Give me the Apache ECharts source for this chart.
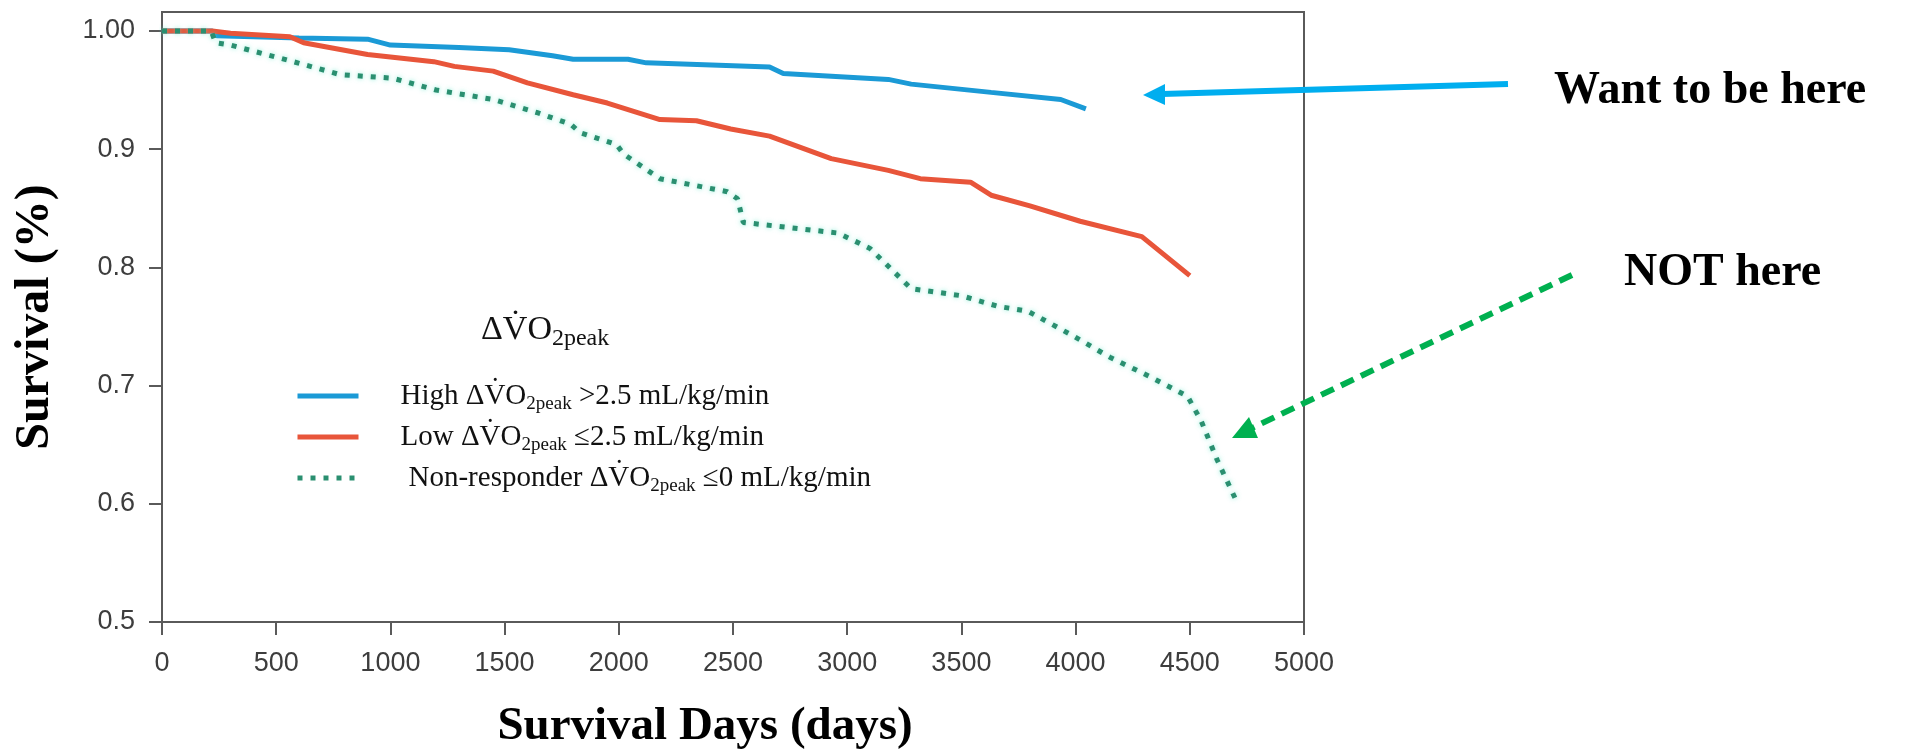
<!DOCTYPE html>
<html>
<head>
<meta charset="utf-8">
<title>Survival by change in VO2peak</title>
<script src="https://cdn.jsdelivr.net/npm/echarts@6/dist/echarts.min.js"></script>
<style>
    html, body { margin: 0; padding: 0; background: #fff; }
    #main { width: 1906px; height: 755px; }
</style>
</head>
<body>
<div id="main"></div>
<script>
// survival curves (days, survival)
let highDays = [0, 220, 240, 600, 900, 1000, 1300, 1520, 1710, 1800, 2040, 2120, 2660, 2720, 3180, 3280, 3630, 3935, 4045];
let highSurv = [1.0, 1.0, 0.996, 0.994, 0.993, 0.988, 0.986, 0.984, 0.979, 0.976, 0.976, 0.973, 0.9695, 0.964, 0.959, 0.955, 0.948, 0.942, 0.934];

let lowDays = [0, 220, 300, 560, 620, 900, 1190, 1280, 1450, 1600, 1800, 1950, 2180, 2340, 2490, 2660, 2930, 3180, 3320, 3540, 3630, 3800, 4020, 4290, 4500];
let lowSurv = [1.0, 1.0, 0.998, 0.995, 0.990, 0.980, 0.974, 0.970, 0.966, 0.956, 0.946, 0.939, 0.925, 0.924, 0.917, 0.911, 0.892, 0.882, 0.875, 0.872, 0.861, 0.852, 0.839, 0.826, 0.793];

let nonDays = [0, 215, 235, 300, 575, 780, 1010, 1200, 1450, 1640, 1790, 1830, 1990, 2020, 2180, 2475, 2520, 2545, 2960, 3100, 3280, 3500, 3660, 3790, 3980, 4150, 4320, 4490, 4550, 4620, 4705];
let nonSurv = [1.0, 1.0, 0.990, 0.988, 0.974, 0.963, 0.960, 0.950, 0.942, 0.931, 0.921, 0.914, 0.904, 0.896, 0.875, 0.864, 0.858, 0.838, 0.829, 0.816, 0.782, 0.776, 0.767, 0.763, 0.743, 0.724, 0.708, 0.691, 0.670, 0.637, 0.602];

// axis ticks
let yTicks = [0.5, 0.6, 0.7, 0.8, 0.9, 1.0];
let yTickLabels = ['0.5', '0.6', '0.7', '0.8', '0.9', '1.00'];

// legend names
let seriesNames = ['high', 'low', 'non'];
let legendTexts = {
    high: '{g| }High ΔV\u0307O{s|2peak} >2.5 mL/kg/min',
    low: '{g| }Low ΔV\u0307O{s|2peak} \u22642.5 mL/kg/min',
    non: '{w| }Non-responder ΔV\u0307O{s|2peak} \u22640 mL/kg/min'
};

function pairs(xs, ys) {
    return xs.map(function (x, i) { return [x, ys[i]]; });
}

let serif = '"Liberation Serif", "Times New Roman", "DejaVu Serif", serif';
let sans = '"Liberation Sans", Arial, Helvetica, sans-serif';

let chart = echarts.init(document.getElementById('main'));

let option = {
    animation: false,
    backgroundColor: '#fff',
    title: {
        text: '{m|ΔV\u0307O}{s|2peak}',
        left: 476,
        top: 304,
        textStyle: {
            fontWeight: 'normal',
            rich: {
                m: { fontFamily: serif, fontWeight: 'normal', fontSize: 34, color: '#111', lineHeight: 42 },
                s: { fontFamily: serif, fontWeight: 'normal', fontSize: 24, color: '#111', verticalAlign: 'bottom', lineHeight: 42 }
            }
        }
    },
    legend: {
        orient: 'vertical',
        left: 290,
        top: 373,
        itemWidth: 61,
        itemHeight: 14,
        itemGap: 5,
        backgroundColor: '#fff',
        data: seriesNames,
        itemStyle: { opacity: 0 },
        lineStyle: { width: 5 },
        formatter: function (name) {
            return legendTexts[name];
        },
        textStyle: {
            rich: {
                g: { width: 37, fontSize: 29, lineHeight: 36 },
                w: { width: 45, fontSize: 29, lineHeight: 36 },
                s: { fontFamily: serif, fontSize: 19, color: '#111', verticalAlign: 'bottom', lineHeight: 36 }
            },
            fontFamily: serif,
            fontSize: 29,
            color: '#111',
            lineHeight: 36
        }
    },
    grid: {
        left: 162,
        right: 602,
        top: 12,
        bottom: 129,
        show: true,
        borderColor: '#5a5a5a',
        borderWidth: 2
    },
    xAxis: {
        type: 'value',
        min: 0,
        max: 5000,
        interval: 500,
        name: 'Survival Days (days)',
        nameLocation: 'middle',
        nameGap: 81,
        nameTextStyle: {
            fontFamily: serif,
            fontWeight: 'bold',
            fontSize: 47,
            color: '#000',
            padding: [0, 56, 0, 0]
        },
        splitLine: { show: false },
        axisLine: { lineStyle: { color: '#5a5a5a', width: 2 } },
        axisTick: { length: 13, lineStyle: { color: '#5a5a5a', width: 2 } },
        axisLabel: {
            margin: 28,
            fontFamily: sans,
            fontSize: 27,
            color: '#3d3d3d',
            formatter: function (v) {
                return String(v);
            }
        }
    },
    yAxis: {
        type: 'value',
        min: 0.5,
        max: 1.016,
        name: 'Survival (%)',
        nameLocation: 'middle',
        nameRotate: 90,
        nameGap: 102,
        nameTextStyle: {
            fontFamily: serif,
            fontWeight: 'bold',
            fontSize: 48,
            color: '#000'
        },
        splitLine: { show: false },
        axisLine: { lineStyle: { color: '#5a5a5a', width: 2 } },
        axisTick: {
            length: 13,
            customValues: yTicks,
            lineStyle: { color: '#5a5a5a', width: 2 }
        },
        axisLabel: {
            margin: 27,
            customValues: yTicks,
            fontFamily: sans,
            fontSize: 27,
            color: '#3d3d3d',
            formatter: function (v) {
                let i = yTicks.indexOf(v);
                return i > -1 ? yTickLabels[i] : '';
            }
        }
    },
    series: [
        {
            name: 'high',
            type: 'line',
            symbol: 'none',
            data: pairs(highDays, highSurv),
            lineStyle: { color: '#1b9ad6', width: 5 },
            itemStyle: { color: '#1b9ad6' }
        },
        {
            name: 'low',
            type: 'line',
            symbol: 'none',
            data: pairs(lowDays, lowSurv),
            lineStyle: { color: '#e8553a', width: 5 },
            itemStyle: { color: '#e8553a' }
        },
        {
            name: 'non',
            type: 'line',
            symbol: 'none',
            data: pairs(nonDays, nonSurv),
            lineStyle: {
                color: '#2a8f70',
                width: 5,
                type: [5, 8],
                shadowColor: 'rgba(90, 230, 200, 0.7)',
                shadowBlur: 5
            },
            itemStyle: { color: '#2a8f70' }
        }
    ],
    // annotations: arrows and notes beside the plot
    graphic: [
        {
            type: 'line',
            shape: { x1: 1508, y1: 84, x2: 1162, y2: 94 },
            style: { stroke: '#00aeef', lineWidth: 6 }
        },
        {
            type: 'polygon',
            shape: { points: [[1143, 95], [1165, 105], [1165, 84]] },
            style: { fill: '#00aeef' }
        },
        {
            type: 'line',
            shape: { x1: 1572, y1: 275, x2: 1252, y2: 428 },
            style: { stroke: '#00b050', lineWidth: 6, lineDash: [14, 8] }
        },
        {
            type: 'polygon',
            shape: { points: [[1232, 438], [1258, 438], [1249, 417]] },
            style: { fill: '#00b050' }
        },
        {
            type: 'text',
            left: 1554,
            top: 68,
            style: {
                text: 'Want to be here',
                font: 'bold 46px ' + serif,
                fill: '#000'
            }
        },
        {
            type: 'text',
            left: 1624,
            top: 250,
            style: {
                text: 'NOT here',
                font: 'bold 46px ' + serif,
                fill: '#000'
            }
        }
    ]
};

chart.setOption(option);
</script>
</body>
</html>
